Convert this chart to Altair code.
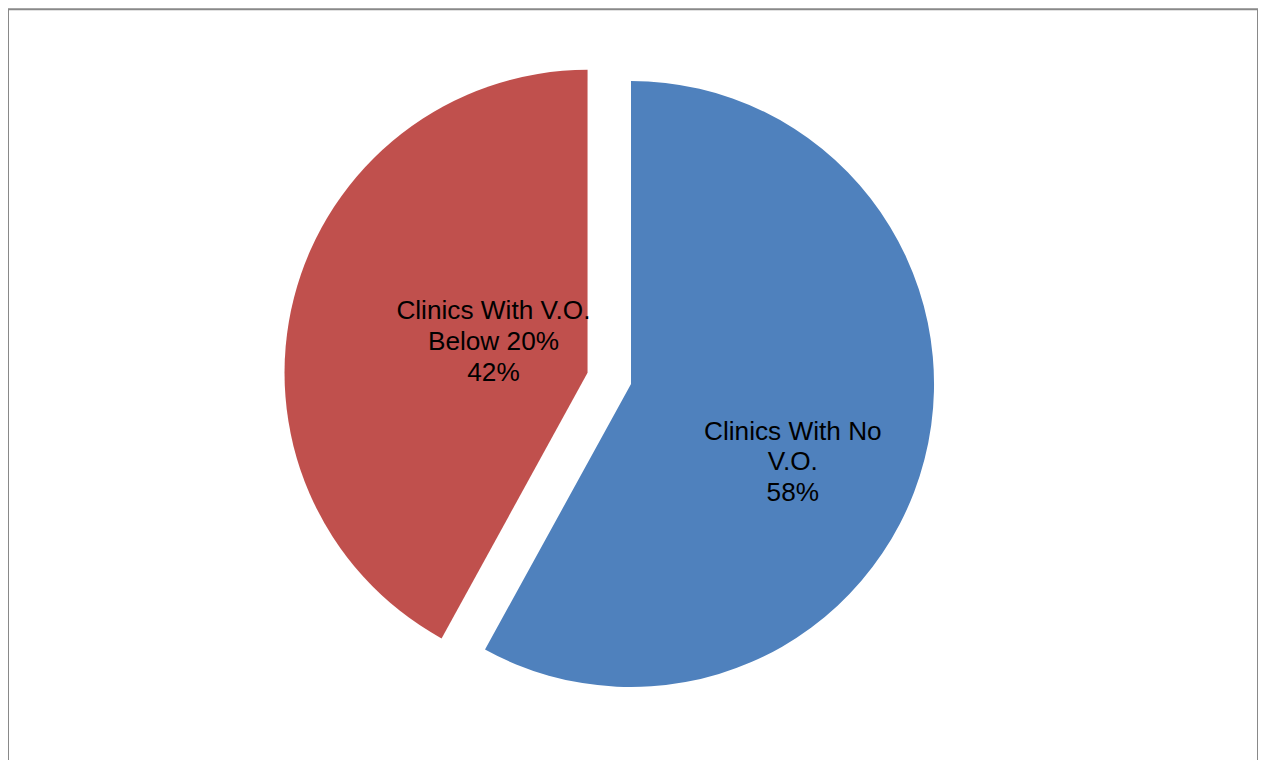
import altair as alt
import pandas as pd

categories = ["Clinics With No V.O.", "Clinics With V.O. Below 20%"]
values = [58, 42]
label_lines = [["Clinics With No", "V.O.", "58%"],
               ["Clinics With V.O.", "Below 20%", "42%"]]
colors = ["#4F81BD", "#C0504D"]

df = pd.DataFrame({
    "category": categories,
    "value": values,
    "label": label_lines,
    "order": list(range(len(categories))),
})

total = 100
color_scale = alt.Scale(domain=categories, range=colors)
theta_scale = alt.Scale(domain=[0, total], range=[0, 6.283185307179586])

base = (
    alt.Chart(df)
    .transform_window(cum="sum(value)", frame=[None, 0], sort=[alt.SortField("order")])
    .transform_calculate(start="datum.cum - datum.value", mid="datum.cum - datum.value / 2")
)

R = 304
cx = -2  # small shift of the pie centre within the frame

def arc_layer(cat, xo, yo):
    return base.transform_filter(alt.datum.category == cat).mark_arc(
        outerRadius=R, xOffset=cx + xo, yOffset=yo
    ).encode(
        theta=alt.Theta("start:Q", scale=theta_scale, stack=False),
        theta2="cum:Q",
        color=alt.Color("category:N", scale=color_scale, legend=None),
    )

def text_layer(cat, r, xo, yo):
    return base.transform_filter(alt.datum.category == cat).mark_text(
        radius=r, xOffset=cx + xo, yOffset=yo, font="Liberation Sans", fontSize=26.3,
        lineHeight=31, color="black", align="center", baseline="middle"
    ).encode(
        theta=alt.Theta("mid:Q", scale=theta_scale, stack=False),
        text="label",
    )

ex, ey = -43.6, -11.2

# chart border (its bottom edge runs below the visible page, as in the original)
frame = alt.Chart(alt.Data(values=[{}])).mark_rect(
    fill="transparent", stroke="#898989", strokeWidth=2
).encode(
    x=alt.value(0), x2=alt.value("width"), y=alt.value(0), y2=alt.value(800)
)

chart = alt.layer(
    frame,
    arc_layer(categories[0], 0, 0),
    arc_layer(categories[1], ex, ey),
    text_layer(categories[0], 180, -12, 34 - 31),
    text_layer(categories[1], 99, ex + 1.5, ey - 6 - 31),
).properties(
    width=1254, height=752, padding=0, autosize=alt.AutoSizeParams(type="none")
).configure_view(
    stroke=None
)

chart.save("out.html", embed_options={"renderer": "svg", "actions": False})
